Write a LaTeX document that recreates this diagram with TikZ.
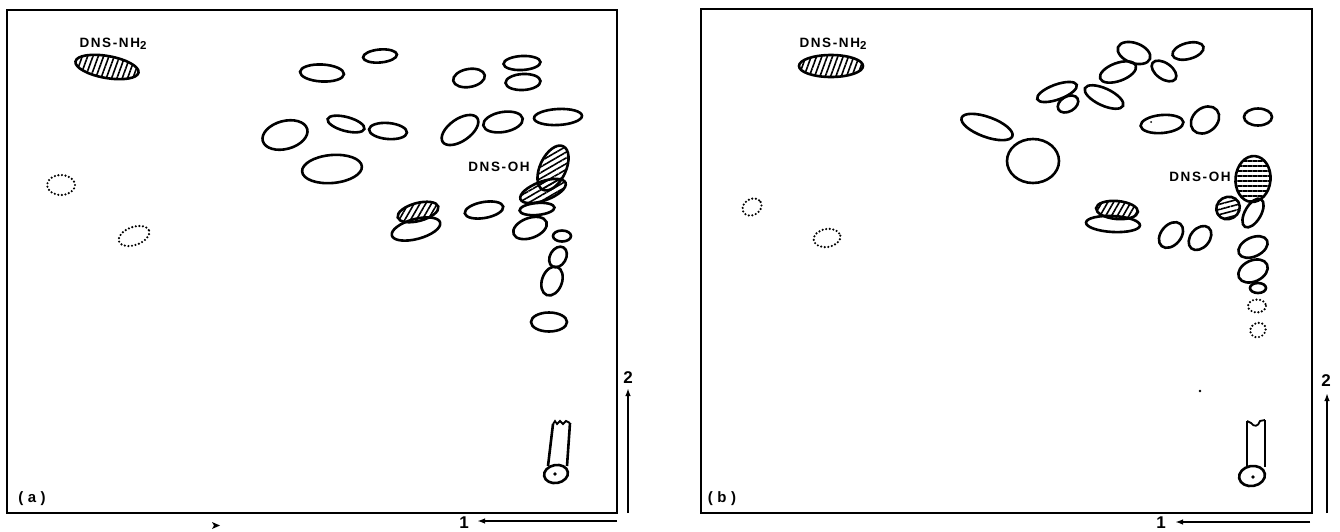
\documentclass[tikz,border=0pt]{standalone}
\usepackage{fontspec}
\setmainfont{Liberation Sans}
\newfontfamily\lblfont[LetterSpace=12]{Liberation Sans}
\newfontfamily\panfont[LetterSpace=30]{Liberation Sans}
\usetikzlibrary{patterns.meta,arrows.meta}
% plain spot: #1 extra style, (#2,#3) centre, #4 #5 radii, #6 tilt
\newcommand\spt[6]{\draw[spotline,#1,shift={(#2,#3)},rotate=#6] (0,0) ellipse [x radius=#4, y radius=#5];}
% hatched spot: #7 hatch angle
\newcommand\hspt[7]{\draw[spotline,#1,pattern={Lines[angle=#7,distance=5pt,line width=1.6pt]},shift={(#2,#3)},rotate=#6] (0,0) ellipse [x radius=#4, y radius=#5];}
\newcommand\subtwo{\raisebox{-0.35ex}{\fontsize{11.5}{12}\selectfont 2}}
\tikzset{
  spotline/.style={line width=2.6pt},
  dotline/.style={line width=2.4pt, dash pattern=on 0pt off 3.6pt, line cap=round},
  lbl/.style={font=\lblfont\bfseries\fontsize{13.5}{14}\selectfont, inner sep=0pt},
  panlbl/.style={font=\panfont\bfseries\fontsize{15}{15}\selectfont, inner sep=0pt},
  axlbl/.style={font=\bfseries\fontsize{17}{17}\selectfont, inner sep=0pt},
  framebox/.style={line width=2.1pt},
  axarrow/.style={line width=1.9pt, -{Latex[length=8pt,width=5.5pt]}},
}
\begin{document}
\begin{tikzpicture}[x=1pt,y=-1pt]
\useasboundingbox (0,0) rectangle (1340,531);
% ---------------- panel (a) ----------------
\draw[framebox] (7,10) rectangle (617,513);
\node[lbl] (nh2a) at (113,44) {DNS-NH\subtwo};
\hspt{}{107}{67}{32}{11}{-10}{70}
\spt{}{322}{73}{22}{8.5}{-3}
\spt{}{380}{56}{17}{6.5}{5}
\spt{}{469}{78}{16}{9}{10}
\spt{}{522}{63}{18.5}{7}{3}
\spt{}{523}{82}{17.5}{8}{3}
\spt{}{285}{135}{23}{14}{15}
\spt{}{346}{124}{19}{7}{-15}
\spt{}{388}{131}{19}{8}{-5}
\spt{}{460}{130}{21}{11}{35}
\spt{}{503}{122}{20}{10}{10}
\spt{}{558}{117}{24}{8}{3}
\spt{}{332}{169}{30}{14}{5}
\node[lbl] (oha) at (499,167) {DNS-OH};
\hspt{}{553}{168}{24}{13}{65}{30}
\hspt{}{543}{191}{24}{9.5}{20}{30}
\spt{}{537}{209}{17.5}{6}{5}
\spt{}{530}{228}{17.5}{10}{20}
\spt{}{484}{210}{19.5}{8}{10}
\spt{}{562}{236}{9}{5.5}{0}
\spt{}{558}{257}{11}{8}{60}
\spt{}{552}{281}{15}{10}{70}
\spt{}{549}{322}{18}{9.5}{0}
\hspt{}{418}{212}{21}{9}{15}{60}
\spt{}{416}{229}{25}{10}{15}
\spt{dotline}{61}{185}{14}{10}{0}
\spt{dotline}{134}{236}{16}{9}{20}
% origin tube (a)
\draw[spotline] (553,424) -- (548,466);
\draw[spotline] (570,423) -- (567,466);
\draw[line width=1.8pt] (553,424) -- (555,421) -- (557,424) -- (560,421) -- (563,424) -- (566,421) -- (570,423);
\spt{}{556}{474}{12}{9}{10}
\fill (555,474) circle (1.8);
\node[panlbl] (laba) at (32,499) {(a)};
\fill (212,522) -- (220,525.5) -- (212,529) -- (214,525.5) -- cycle;
% axes (a)
\coordinate (a2s) at (628,513);
\coordinate (a2e) at (628,388);
\coordinate (a1s) at (617,521);
\coordinate (a1e) at (477,521);
\draw[axarrow] (a2s) -- (a2e);
\draw[axarrow] (a1s) -- (a1e);
\node[axlbl] (a2) at (628,378) {2};
\node[axlbl] (a1) at (464,523) {1};
% ---------------- panel (b) ----------------
\draw[framebox] (701,9) rectangle (1312,513);
\node[lbl] (nh2b) at (833,44) {DNS-NH\subtwo};
\hspt{}{831}{66}{32}{11}{0}{70}
\spt{}{1134}{53}{17}{10}{-20}
\spt{}{1188}{51}{16}{8}{15}
\spt{}{1118}{72}{19}{9}{20}
\spt{}{1164}{71}{14}{8}{-35}
\spt{}{1057}{92}{21}{7.5}{20}
\spt{}{1068}{104}{11}{7.5}{30}
\spt{}{1104}{97}{21}{8.5}{-25}
\spt{}{987}{127}{27}{10}{-20}
\spt{}{1033}{161}{26}{22}{0}
\spt{}{1162}{124}{21.5}{9}{5}
\fill (1151,122) circle (1);
\spt{}{1205}{120}{15.5}{12}{40}
\spt{}{1258}{117}{14}{8.5}{0}
\node[lbl] (ohb) at (1200,177) {DNS-OH};
\hspt{}{1253}{179}{17.5}{23}{-5}{0}
\hspt{}{1228}{208}{12}{11}{30}{15}
\spt{}{1253}{213}{16}{8}{60}
\hspt{}{1117}{210}{21}{9}{-5}{60}
\spt{}{1113}{224}{27}{8}{-3}
\spt{}{1171}{235}{14.5}{10}{50}
\spt{}{1200}{238}{13.5}{9.5}{50}
\spt{}{1253}{247}{15.5}{9.5}{25}
\spt{}{1253}{271}{15.5}{10.5}{25}
\spt{}{1258}{288}{8}{5}{0}
\spt{dotline}{1257}{306}{9}{6.5}{0}
\spt{dotline}{1258}{330}{8}{7}{30}
\spt{dotline}{752}{207}{10}{8}{30}
\spt{dotline}{827}{238}{13.5}{9}{10}
\fill (1200,391) circle (1.3);
% origin tube (b)
\draw[spotline] (1247,421) -- (1247,467);
\draw[spotline] (1265,420) -- (1265,467);
\draw[line width=1.8pt] (1247,421) -- (1251,423) .. controls (1254,427) and (1258,427) .. (1260,421) -- (1265,420);
\spt{}{1252}{476}{13}{10}{10}
\fill (1253,477) circle (1.8);
\node[panlbl] (labb) at (722,499) {(b)};
% axes (b)
\coordinate (b2s) at (1327,513);
\coordinate (b2e) at (1327,393);
\coordinate (b1s) at (1310,522);
\coordinate (b1e) at (1175,522);
\draw[axarrow] (b2s) -- (b2e);
\draw[axarrow] (b1s) -- (b1e);
\node[axlbl] (b2) at (1326,381) {2};
\node[axlbl] (b1) at (1161,523) {1};
\end{tikzpicture}
\end{document}
